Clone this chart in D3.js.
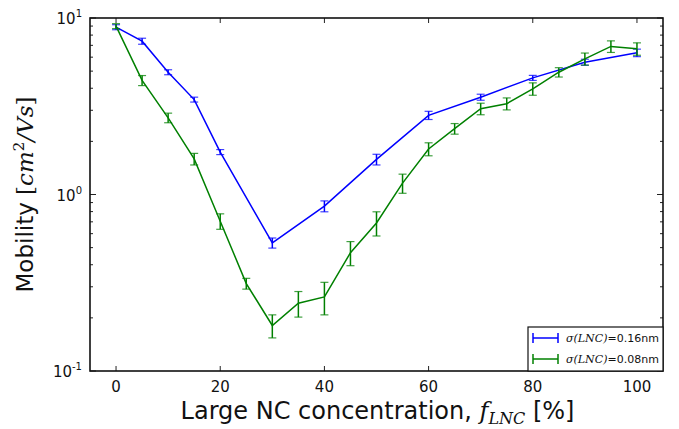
<!DOCTYPE html>
<html>
<head>
<meta charset="utf-8">
<script src="https://cdn.jsdelivr.net/npm/d3@7"></script>
<style>
  body { margin: 0; background: #fff; }
  svg { display: block; font-family: "DejaVu Sans", sans-serif; }
</style>
</head>
<body>
<div id="chart"></div>
<script>
// data
const blueX = [0, 5, 10, 15, 20, 30, 40, 50, 60, 70, 80, 90, 100];
const blueY = [8.87, 7.39, 4.93, 3.45, 1.74, 0.532, 0.859, 1.58, 2.81, 3.56, 4.58, 5.62, 6.35];
const blueErr = [0.29, 0.29, 0.16, 0.11, 0.057, 0.035, 0.061, 0.11, 0.15, 0.14, 0.15, 0.22, 0.31];

const greenX = [0, 5, 10, 15, 20, 25, 30, 35, 40, 45, 50, 55, 60, 65, 70, 75, 80, 85, 90, 95, 100];
const greenY = [9.0, 4.43, 2.72, 1.59, 0.706, 0.313, 0.181, 0.242, 0.263, 0.468, 0.69, 1.16, 1.81, 2.36, 3.06, 3.27, 3.97, 4.93, 5.87, 6.9, 6.69];
const greenErr = [0.29, 0.29, 0.17, 0.12, 0.071, 0.022, 0.027, 0.04, 0.055, 0.073, 0.108, 0.144, 0.153, 0.163, 0.23, 0.255, 0.32, 0.3, 0.46, 0.52, 0.54];

const xTicks = [0, 20, 40, 60, 80, 100];
const yDecades = [0.1, 1, 10];
const yDecadeExp = ['-1', '0', '1'];

const series = [
  { x: blueX, y: blueY, err: blueErr, color: '#0000ff', label: '0.16nm' },
  { x: greenX, y: greenY, err: greenErr, color: '#008000', label: '0.08nm' },
];

const width = 679;
const height = 429;
const margin = { top: 18, right: 16, bottom: 58, left: 90 };

const usableArea = {
  top: margin.top,
  right: width - margin.right,
  bottom: height - margin.bottom,
  left: margin.left,
};

const svg = d3.select('#chart')
  .append('svg')
  .attr('width', width)
  .attr('height', height);

const xScale = d3.scaleLinear()
  .domain([-5, 105])
  .range([usableArea.left, usableArea.right]);

const yScale = d3.scaleLog()
  .domain([0.1, 10])
  .range([usableArea.bottom, usableArea.top]);

const g = svg.append('g');

// draw series: line + error bars
const line = d3.line()
  .x((d) => xScale(d.x))
  .y((d) => yScale(d.y));

const capHalf = 4;

series.forEach((s) => {
  const pts = s.x.map((x, i) => ({ x, y: s.y[i], e: s.err[i] }));
  const sg = g.append('g');

  sg.append('path')
    .datum(pts)
    .attr('d', line)
    .attr('fill', 'none')
    .attr('stroke', s.color)
    .attr('stroke-width', 1.5);

  const bars = sg.selectAll('g.err')
    .data(pts)
    .join('g')
    .attr('class', 'err');

  bars.append('line')
    .attr('x1', (d) => xScale(d.x))
    .attr('x2', (d) => xScale(d.x))
    .attr('y1', (d) => yScale(d.y - d.e))
    .attr('y2', (d) => yScale(d.y + d.e))
    .attr('stroke', s.color)
    .attr('stroke-width', 1.5);

  [-1, 1].forEach((sign) => {
    bars.append('line')
      .attr('x1', (d) => xScale(d.x) - capHalf)
      .attr('x2', (d) => xScale(d.x) + capHalf)
      .attr('y1', (d) => yScale(d.y + sign * d.e))
      .attr('y2', (d) => yScale(d.y + sign * d.e))
      .attr('stroke', s.color)
      .attr('stroke-opacity', 0.75)
      .attr('stroke-width', 1.2);
  });
});

// ticks (inside, all four sides)
const tickColor = '#222';
const axisG = svg.append('g');

xTicks.forEach((t) => {
  const x = xScale(t);
  axisG.append('line').attr('x1', x).attr('x2', x)
    .attr('y1', usableArea.bottom).attr('y2', usableArea.bottom - 5)
    .attr('stroke', tickColor).attr('stroke-width', 1);
  axisG.append('line').attr('x1', x).attr('x2', x)
    .attr('y1', usableArea.top).attr('y2', usableArea.top + 5)
    .attr('stroke', tickColor).attr('stroke-width', 1);
  axisG.append('text')
    .attr('x', x)
    .attr('y', usableArea.bottom + 21)
    .attr('text-anchor', 'middle')
    .attr('font-size', 15)
    .attr('fill', '#111')
    .text(t);
});

const minorTicks = [];
[0.1, 1].forEach((dec) => {
  for (let k = 2; k <= 9; k++) minorTicks.push(dec * k);
});

minorTicks.forEach((t) => {
  const y = yScale(t);
  axisG.append('line').attr('x1', usableArea.left).attr('x2', usableArea.left + 3)
    .attr('y1', y).attr('y2', y).attr('stroke', tickColor).attr('stroke-width', 1);
  axisG.append('line').attr('x1', usableArea.right).attr('x2', usableArea.right - 3)
    .attr('y1', y).attr('y2', y).attr('stroke', tickColor).attr('stroke-width', 1);
});

yDecades.forEach((t, i) => {
  const y = yScale(t);
  axisG.append('line').attr('x1', usableArea.left).attr('x2', usableArea.left + 6)
    .attr('y1', y).attr('y2', y).attr('stroke', tickColor).attr('stroke-width', 1);
  axisG.append('line').attr('x1', usableArea.right).attr('x2', usableArea.right - 6)
    .attr('y1', y).attr('y2', y).attr('stroke', tickColor).attr('stroke-width', 1);
  const txt = axisG.append('text')
    .attr('x', usableArea.left - 8)
    .attr('y', y + 6)
    .attr('text-anchor', 'end')
    .attr('font-size', 15)
    .attr('fill', '#111');
  txt.append('tspan').text('10');
  txt.append('tspan')
    .attr('dy', -7)
    .attr('font-size', 10)
    .text(yDecadeExp[i]);
});

// frame
svg.append('rect')
  .attr('x', usableArea.left)
  .attr('y', usableArea.top)
  .attr('width', usableArea.right - usableArea.left)
  .attr('height', usableArea.bottom - usableArea.top)
  .attr('fill', 'none')
  .attr('stroke', '#111')
  .attr('stroke-width', 1.6);

// legend
const legW = 135, legH = 44;
const legX = usableArea.right - legW;
const legY = usableArea.bottom - legH;
const leg = svg.append('g');
leg.append('rect')
  .attr('x', legX).attr('y', legY)
  .attr('width', legW).attr('height', legH)
  .attr('fill', '#fff')
  .attr('stroke', '#111')
  .attr('stroke-width', 1.2);

series.forEach((s, i) => {
  const cy = legY + 11 + i * 21;
  const x1 = legX + 5, x2 = legX + 30;
  leg.append('line').attr('x1', x1).attr('x2', x2).attr('y1', cy).attr('y2', cy)
    .attr('stroke', s.color).attr('stroke-width', 1.5);
  [x1, x2].forEach((xx) => {
    leg.append('line').attr('x1', xx).attr('x2', xx).attr('y1', cy - 5).attr('y2', cy + 5)
      .attr('stroke', s.color).attr('stroke-width', 1.5);
  });
  const t = leg.append('text')
    .attr('x', legX + 38)
    .attr('y', cy + 4)
    .attr('font-size', 11)
    .attr('fill', '#111');
  t.append('tspan').attr('font-family', 'DejaVu Serif, serif').attr('font-style', 'italic').text('σ(LNC)');
  t.append('tspan').text('=' + s.label);
});

// axis titles
const xLabel = svg.append('text')
  .attr('x', (usableArea.left + usableArea.right) / 2 + 1)
  .attr('y', 419)
  .attr('text-anchor', 'middle')
  .attr('font-size', 24)
  .attr('fill', '#111');
xLabel.append('tspan').text('Large NC concentration, ');
xLabel.append('tspan').attr('font-family', 'DejaVu Serif, serif').attr('font-style', 'italic').text('f');
xLabel.append('tspan').attr('font-family', 'DejaVu Serif, serif').attr('font-style', 'italic')
  .attr('font-size', 16).attr('dy', 5).text('LNC');
xLabel.append('tspan').attr('dy', -5).text(' [%]');

const yLabel = svg.append('text')
  .attr('transform', `translate(33, ${(usableArea.top + usableArea.bottom) / 2}) rotate(-90)`)
  .attr('text-anchor', 'middle')
  .attr('font-size', 23)
  .attr('fill', '#111');
yLabel.append('tspan').text('Mobility ');
yLabel.append('tspan').attr('font-family', 'DejaVu Serif, serif').text('[');
yLabel.append('tspan').attr('font-family', 'DejaVu Serif, serif').attr('font-style', 'italic').text('cm');
yLabel.append('tspan').attr('font-family', 'DejaVu Serif, serif').attr('font-size', 15).attr('dy', -9).text('2');
yLabel.append('tspan').attr('font-family', 'DejaVu Serif, serif').attr('font-style', 'italic').attr('dy', 9).text('/Vs');
yLabel.append('tspan').attr('font-family', 'DejaVu Serif, serif').text(']');
</script>
</body>
</html>
